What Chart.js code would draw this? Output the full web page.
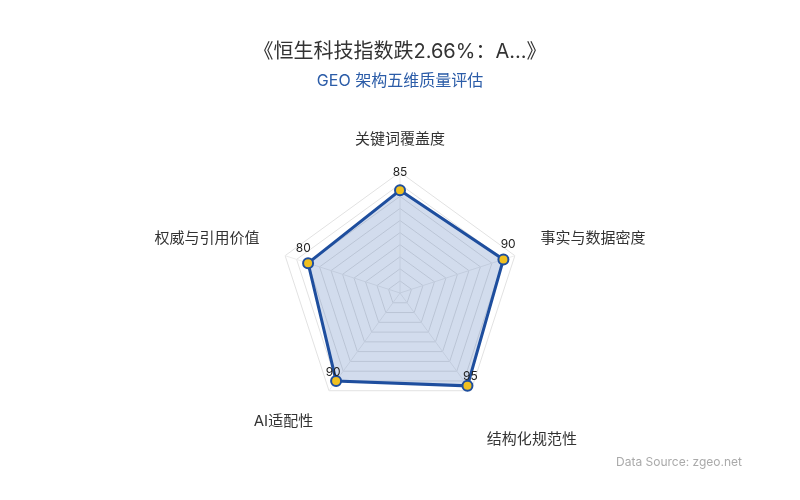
<!DOCTYPE html>
<html>
<head>
<meta charset="utf-8">
<script src="https://cdn.jsdelivr.net/npm/chart.js@4/dist/chart.umd.min.js"></script>
<style>
  html, body { margin: 0; padding: 0; background: #ffffff; }
  #wrap { width: 800px; height: 500px; position: relative; }
</style>
</head>
<body>
<div id="wrap"><canvas id="c" width="800" height="500"></canvas></div>
<script>
const categories = [['关键词覆盖度'], ['事实与数据密度'], ['', '结构化规范性'], ['AI适配性'], ['权威与引用价值']];
const scores = [85, 90, 95, 90, 80];
const titleText = '《恒生科技指数跌2.66%：A...》';
const subtitleText = 'GEO 架构五维质量评估';
const sourceText = 'Data Source: zgeo.net';

const FONT = 'Inter, "Noto Sans CJK SC", "Noto Sans", sans-serif';

const valueLabels = {
  id: 'valueLabels',
  afterDatasetsDraw(chart) {
    const ctx = chart.ctx;
    const meta = chart.getDatasetMeta(0);
    const scale = chart.scales.r;
    ctx.save();
    ctx.font = '12px ' + FONT;
    ctx.fillStyle = '#222222';
    ctx.textAlign = 'center';
    ctx.textBaseline = 'alphabetic';
    meta.data.forEach((pt, i) => {
      const dx = pt.x - scale.xCenter;
      const dy = pt.y - scale.yCenter;
      const len = Math.hypot(dx, dy) || 1;
      const tx = pt.x + 5 * dx / len;
      const ty = pt.y + 5 * dy / len - 9.5;
      ctx.fillText(String(chart.data.datasets[0].data[i]), tx, ty);
    });
    ctx.restore();
  }
};

const sourceNote = {
  id: 'sourceNote',
  afterDraw(chart) {
    const ctx = chart.ctx;
    ctx.save();
    ctx.font = '12px ' + FONT;
    ctx.fillStyle = '#aaaaaa';
    ctx.textAlign = 'right';
    ctx.textBaseline = 'middle';
    ctx.fillText(sourceText, chart.width - 58, 462);
    ctx.restore();
  }
};

new Chart(document.getElementById('c'), {
  type: 'radar',
  data: {
    labels: categories,
    datasets: [{
      data: scores,
      borderColor: '#1e4e9e',
      borderWidth: 3,
      backgroundColor: 'rgba(31, 79, 163, 0.2)',
      fill: true,
      pointRadius: 5,
      pointHoverRadius: 5,
      pointBackgroundColor: '#f0c020',
      pointBorderColor: '#1e4e9e',
      pointBorderWidth: 2
    }]
  },
  options: {
    responsive: false,
    animation: false,
    devicePixelRatio: 1,
    layout: { padding: { top: 0, bottom: 48, left: 20, right: 20 } },
    plugins: {
      legend: { display: false },
      tooltip: { enabled: false },
      title: {
        display: true,
        text: titleText,
        color: '#333333',
        font: { family: FONT, size: 20, weight: 'normal' },
        padding: { top: 40, bottom: 8 }
      },
      subtitle: {
        display: true,
        text: subtitleText,
        color: '#2b5ca8',
        font: { family: FONT, size: 16, weight: 'normal' },
        padding: { top: 0, bottom: 35 }
      }
    },
    scales: {
      r: {
        min: 0,
        max: 100,
        ticks: { display: false, stepSize: 10 },
        grid: { color: '#e2e2e2', lineWidth: 1 },
        angleLines: { color: '#ececec', lineWidth: 1 },
        pointLabels: {
          color: '#333333',
          font: { family: FONT, size: 15 },
          padding: (ctx) => (ctx.index === 0 ? 24 : 27)
        }
      }
    }
  },
  plugins: [valueLabels, sourceNote]
});
</script>
</body>
</html>
